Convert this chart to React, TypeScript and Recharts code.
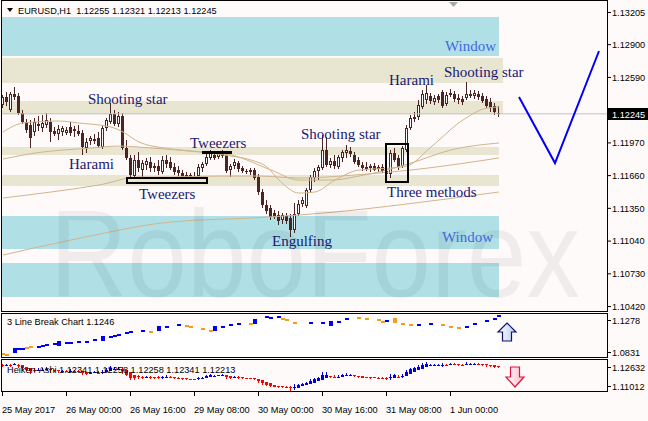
import {
  ComposedChart, Bar, Line, Area, Scatter, XAxis, YAxis, ReferenceArea, ReferenceLine,
} from 'recharts'

// EURUSD H1, 25 May 08:00 .. 1 Jun 12:00 (one value per hourly bar)
const openP = [
  1.12329, 1.12404, 1.12281, 1.12433, 1.12414, 1.12253, 1.12168, 1.12139, 1.12073, 1.12130,
  1.12111, 1.12139, 1.12168, 1.12083, 1.12054, 1.12073, 1.12064, 1.12120, 1.12101, 1.12083,
  1.12064, 1.11921, 1.11988, 1.11997, 1.12016, 1.11931, 1.12111, 1.12168, 1.12243, 1.12149,
  1.12224, 1.11921, 1.11827, 1.11656, 1.11808, 1.11713, 1.11760, 1.11789, 1.11732, 1.11751,
  1.11694, 1.11808, 1.11789, 1.11741, 1.11713, 1.11685, 1.11666, 1.11656, 1.11656, 1.11656,
  1.11732, 1.11770, 1.11827, 1.11855, 1.11836, 1.11865, 1.11855, 1.11713, 1.11751, 1.11779,
  1.11732, 1.11704, 1.11694, 1.11713, 1.11647, 1.11505, 1.11382, 1.11353, 1.11306, 1.11287,
  1.11240, 1.11278, 1.11259, 1.11145, 1.11297, 1.11391, 1.11372, 1.11524, 1.11637, 1.11704,
  1.11732, 1.11903, 1.11760, 1.11798, 1.11741, 1.11827, 1.11874, 1.11893, 1.11855, 1.11808,
  1.11760, 1.11741, 1.11732, 1.11751, 1.11722, 1.11741, 1.11704, 1.11675, 1.11874, 1.11827,
  1.11751, 1.11903, 1.12111, 1.12196, 1.12215, 1.12310, 1.12376, 1.12414, 1.12357, 1.12414,
  1.12452, 1.12338, 1.12423, 1.12433, 1.12376, 1.12385, 1.12395, 1.12433, 1.12414, 1.12433,
  1.12414, 1.12385, 1.12357, 1.12319, 1.12255,
]
const highP = [
  1.12423, 1.12452, 1.12452, 1.12499, 1.12442, 1.12281, 1.12196, 1.12187, 1.12205, 1.12224,
  1.12234, 1.12253, 1.12205, 1.12120, 1.12139, 1.12130, 1.12120, 1.12168, 1.12130, 1.12139,
  1.12092, 1.12016, 1.12035, 1.12054, 1.12073, 1.12130, 1.12205, 1.12348, 1.12281, 1.12262,
  1.12253, 1.11997, 1.11855, 1.11855, 1.11884, 1.11808, 1.11827, 1.11836, 1.11779, 1.11808,
  1.11846, 1.11855, 1.11836, 1.11779, 1.11751, 1.11713, 1.11694, 1.11685, 1.11694, 1.11770,
  1.11789, 1.11865, 1.11903, 1.11893, 1.11893, 1.11903, 1.11893, 1.11770, 1.11817, 1.11798,
  1.11751, 1.11722, 1.11732, 1.11732, 1.11675, 1.11533, 1.11429, 1.11382, 1.11334, 1.11325,
  1.11306, 1.11306, 1.11297, 1.11401, 1.11429, 1.11457, 1.11543, 1.11666, 1.11732, 1.11760,
  1.12045, 1.12026, 1.11827, 1.11855, 1.11855, 1.11903, 1.11950, 1.11931, 1.11884, 1.11836,
  1.11789, 1.11789, 1.11770, 1.11779, 1.11760, 1.11770, 1.11760, 1.11903, 1.11921, 1.11855,
  1.11940, 1.12139, 1.12234, 1.12262, 1.12376, 1.12471, 1.12518, 1.12442, 1.12423, 1.12433,
  1.12471, 1.12452, 1.12480, 1.12461, 1.12433, 1.12414, 1.12546, 1.12471, 1.12471, 1.12461,
  1.12442, 1.12414, 1.12395, 1.12348, 1.12321,
]
const lowP = [
  1.12300, 1.12319, 1.12262, 1.12376, 1.12234, 1.12149, 1.12064, 1.11921, 1.12035, 1.12083,
  1.12073, 1.12111, 1.11978, 1.12035, 1.11997, 1.12035, 1.12045, 1.12035, 1.12026, 1.12035,
  1.11855, 1.11874, 1.11950, 1.11959, 1.11921, 1.11912, 1.12083, 1.12149, 1.12130, 1.12120,
  1.11903, 1.11808, 1.11628, 1.11637, 1.11694, 1.11647, 1.11713, 1.11694, 1.11694, 1.11666,
  1.11675, 1.11732, 1.11713, 1.11666, 1.11656, 1.11637, 1.11628, 1.11628, 1.11628, 1.11637,
  1.11694, 1.11751, 1.11808, 1.11808, 1.11817, 1.11827, 1.11685, 1.11647, 1.11722, 1.11694,
  1.11685, 1.11675, 1.11666, 1.11618, 1.11476, 1.11353, 1.11297, 1.11240, 1.11249, 1.11193,
  1.11202, 1.11202, 1.11079, 1.11117, 1.11278, 1.11363, 1.11353, 1.11495, 1.11599, 1.11618,
  1.11713, 1.11741, 1.11732, 1.11722, 1.11722, 1.11789, 1.11827, 1.11836, 1.11770, 1.11741,
  1.11704, 1.11704, 1.11694, 1.11704, 1.11694, 1.11685, 1.11637, 1.11637, 1.11789, 1.11713,
  1.11732, 1.11884, 1.12092, 1.12168, 1.12187, 1.12291, 1.12338, 1.12338, 1.12329, 1.12348,
  1.12300, 1.12319, 1.12404, 1.12357, 1.12338, 1.12329, 1.12376, 1.12395, 1.12385, 1.12376,
  1.12348, 1.12300, 1.12262, 1.12234, 1.12213,
]
const closeP = [
  1.12404, 1.12357, 1.12433, 1.12404, 1.12253, 1.12168, 1.12092, 1.12016, 1.12168, 1.12149,
  1.12158, 1.12187, 1.12073, 1.12054, 1.12101, 1.12111, 1.12092, 1.12064, 1.12083, 1.12054,
  1.11931, 1.11978, 1.12016, 1.12007, 1.11940, 1.12111, 1.12187, 1.12243, 1.12149, 1.12224,
  1.11921, 1.11827, 1.11666, 1.11808, 1.11732, 1.11779, 1.11798, 1.11732, 1.11751, 1.11704,
  1.11808, 1.11770, 1.11732, 1.11694, 1.11685, 1.11656, 1.11647, 1.11666, 1.11647, 1.11741,
  1.11770, 1.11836, 1.11874, 1.11827, 1.11874, 1.11846, 1.11704, 1.11751, 1.11789, 1.11722,
  1.11704, 1.11694, 1.11713, 1.11637, 1.11505, 1.11382, 1.11325, 1.11268, 1.11268, 1.11230,
  1.11287, 1.11230, 1.11145, 1.11297, 1.11391, 1.11429, 1.11524, 1.11647, 1.11704, 1.11741,
  1.11903, 1.11760, 1.11798, 1.11751, 1.11836, 1.11884, 1.11903, 1.11865, 1.11789, 1.11760,
  1.11732, 1.11722, 1.11751, 1.11713, 1.11741, 1.11704, 1.11675, 1.11874, 1.11808, 1.11741,
  1.11921, 1.12111, 1.12205, 1.12215, 1.12329, 1.12433, 1.12442, 1.12367, 1.12395, 1.12376,
  1.12319, 1.12423, 1.12442, 1.12385, 1.12395, 1.12357, 1.12433, 1.12414, 1.12442, 1.12404,
  1.12367, 1.12319, 1.12300, 1.12262, 1.12245,
]

// moving averages, read at a few bars
const ma1Idx = [0, 5, 14, 19, 27, 30, 34, 42, 49, 57, 62, 66, 69, 74, 78, 83, 89, 97, 101, 107, 115, 121, 124]
const ma1Val = [1.12073, 1.12158, 1.12177, 1.12158, 1.12120, 1.12073, 1.11978, 1.11912, 1.11884, 1.11846, 1.11808, 1.11741,
  1.11618, 1.11495, 1.11505, 1.11618, 1.11713, 1.11732, 1.11751, 1.11931, 1.12187, 1.12300, 1.12310]
const ma2Idx = [0, 8, 22, 29, 37, 47, 57, 67, 74, 82, 89, 96, 102, 112, 124]
const ma2Val = [1.11817, 1.11874, 1.11921, 1.11940, 1.11921, 1.11893, 1.11855, 1.11713, 1.11618, 1.11618, 1.11656, 1.11713,
  1.11779, 1.11903, 1.11969]
const ma3Idx = [0, 12, 24, 34, 42, 54, 64, 74, 88, 102, 124]
const ma3Val = [1.11448, 1.11505, 1.11571, 1.11647, 1.11647, 1.11656, 1.11656, 1.11637, 1.11666, 1.11713, 1.11827]
const ma4Idx = [0, 17, 42, 62, 74, 83, 99, 124]
const ma4Val = [1.10908, 1.11050, 1.11221, 1.11259, 1.11287, 1.11315, 1.11382, 1.11505]

// forecast zig-zag
const fcIdx = [129, 138, 149]
const fcVal = [1.12404, 1.11779, 1.12840]

// support / resistance zones (price top, price bottom, last bar)
const zoneHi = [1.13162, 1.12774, 1.12367, 1.11931, 1.11666, 1.11278, 1.10832]
const zoneLo = [1.12793, 1.12537, 1.12243, 1.11855, 1.11562, 1.10965, 1.10510]
const zoneEnd = [124, 125, 125, 124, 124, 124, 124]
const zoneIsWindow = [true, false, false, false, false, true, true]

// pattern boxes
const boxFrom = [31, 49.75, 95.75]
const boxTo = [51, 57.25, 101.25]
const boxHi = [1.11637, 1.11893, 1.11959]
const boxLo = [1.11590, 1.11865, 1.11599]
const boxSolid = [false, true, false]

const priceTicks = [1.10420, 1.10730, 1.11040, 1.11350, 1.11660, 1.11970, 1.12590, 1.12900, 1.13205]

// 3 line break
const lbIdx = [0, 1, 3, 4, 5, 6, 7, 9, 10, 11, 13, 14, 16, 17, 19, 21, 23, 25, 27, 28, 29, 31, 32, 35, 37, 39, 41, 44, 46, 47,
  50, 52, 53, 55, 57, 59, 62, 63, 66, 67, 69, 70, 71, 73, 77, 80, 82, 84, 86, 89, 91, 94, 95, 96, 98, 100, 102, 104, 107, 110,
  112, 114, 116, 118, 121, 123, 124]
const lbVal = [1.0871, 1.0861, 1.0901, 1.0921, 1.0923, 1.0930, 1.0937, 1.0943, 1.0950, 1.0957, 1.0970, 1.0973, 1.0983, 1.0983,
  1.0990, 1.0990, 1.1007, 1.1017, 1.1037, 1.1050, 1.1063, 1.1076, 1.1089, 1.1099, 1.1089, 1.1116, 1.1139, 1.1156, 1.1149, 1.1139,
  1.1122, 1.1096, 1.1122, 1.1139, 1.1162, 1.1169, 1.1172, 1.1189, 1.1235, 1.1231, 1.1235, 1.1221, 1.1206, 1.1182, 1.1179, 1.1179,
  1.1172, 1.1189, 1.1221, 1.1228, 1.1221, 1.1206, 1.1189, 1.1199, 1.1196, 1.1172, 1.1162, 1.1156, 1.1172, 1.1156, 1.1139, 1.1129,
  1.1139, 1.1169, 1.1202, 1.1221, 1.1246]
const lbKind = ['o', 'o', 'B', 'b', 'b', 'o', 'o', 'b', 'b', 'b', 'b', 'B', 'b', 'b', 'b', 'b', 'b', 'B', 'b', 'b', 'b', 'b', 'b',
  'b', 'o', 'B', 'b', 'b', 'o', 'o', 'o', 'o', 'B', 'b', 'b', 'b', 'o', 'B', 'b', 'b', 'b', 'o', 'o', 'o', 'b', 'b', 'B', 'b', 'b',
  'o', 'o', 'o', 'o', 'b', 'O', 'o', 'o', 'b', 'b', 'o', 'o', 'o', 'b', 'b', 'b', 'b', 'b']
const lbScale = [1.0831, 1.1278]

// Heiken-Ashi
const haOpen = [
  1.12367, 1.12367, 1.12376, 1.12367, 1.12395, 1.12367, 1.12291, 1.12205, 1.12139, 1.12130,
  1.12139, 1.12139, 1.12158, 1.12130, 1.12101, 1.12087, 1.12087, 1.12083, 1.12092, 1.12087,
  1.12083, 1.12035, 1.11988, 1.11997, 1.11997, 1.11997, 1.12007, 1.12073, 1.12149, 1.12177,
  1.12187, 1.12130, 1.12007, 1.11874, 1.11808, 1.11794, 1.11765, 1.11770, 1.11766, 1.11751,
  1.11741, 1.11751, 1.11770, 1.11770, 1.11741, 1.11722, 1.11698, 1.11678, 1.11669, 1.11662,
  1.11682, 1.11713, 1.11760, 1.11808, 1.11827, 1.11840, 1.11849, 1.11817, 1.11770, 1.11770,
  1.11760, 1.11741, 1.11719, 1.11710, 1.11692, 1.11634, 1.11539, 1.11448, 1.11382, 1.11334,
  1.11297, 1.11278, 1.11268, 1.11230, 1.11235, 1.11292, 1.11353, 1.11401, 1.11492, 1.11581,
  1.11643, 1.11745, 1.11801, 1.11791, 1.11786, 1.11789, 1.11819, 1.11853, 1.11867, 1.11846,
  1.11817, 1.11781, 1.11760, 1.11748, 1.11742, 1.11736, 1.11730, 1.11712, 1.11742, 1.11795,
  1.11790, 1.11812, 1.11912, 1.12035, 1.12123, 1.12200, 1.12288, 1.12353, 1.12371, 1.12374,
  1.12384, 1.12385, 1.12384, 1.12411, 1.12410, 1.12398, 1.12385, 1.12411, 1.12420, 1.12423,
  1.12421, 1.12407, 1.12381, 1.12355, 1.12341,
]
const haClose = [
  1.12364, 1.12383, 1.12357, 1.12428, 1.12336, 1.12213, 1.12130, 1.12066, 1.12120, 1.12146,
  1.12144, 1.12172, 1.12106, 1.12073, 1.12073, 1.12087, 1.12080, 1.12097, 1.12085, 1.12078,
  1.11985, 1.11948, 1.11997, 1.12004, 1.11988, 1.12021, 1.12146, 1.12227, 1.12201, 1.12189,
  1.12075, 1.11888, 1.11744, 1.11739, 1.11779, 1.11737, 1.11775, 1.11763, 1.11739, 1.11732,
  1.11756, 1.11791, 1.11768, 1.11720, 1.11701, 1.11673, 1.11659, 1.11659, 1.11656, 1.11701,
  1.11746, 1.11805, 1.11853, 1.11846, 1.11855, 1.11860, 1.11784, 1.11720, 1.11770, 1.11749,
  1.11718, 1.11699, 1.11701, 1.11675, 1.11576, 1.11443, 1.11358, 1.11311, 1.11289, 1.11259,
  1.11259, 1.11254, 1.11195, 1.11240, 1.11349, 1.11410, 1.11448, 1.11583, 1.11668, 1.11706,
  1.11848, 1.11858, 1.11779, 1.11782, 1.11789, 1.11850, 1.11888, 1.11881, 1.11824, 1.11787,
  1.11746, 1.11739, 1.11737, 1.11737, 1.11730, 1.11725, 1.11694, 1.11772, 1.11848, 1.11784,
  1.11836, 1.12009, 1.12161, 1.12210, 1.12277, 1.12376, 1.12419, 1.12390, 1.12376, 1.12393,
  1.12385, 1.12383, 1.12438, 1.12409, 1.12385, 1.12371, 1.12438, 1.12428, 1.12428, 1.12419,
  1.12393, 1.12355, 1.12329, 1.12291, 1.12258,
]
const haLegend = [1.12341, 1.12258, 1.12258, 1.12341, 1.12213]
const haScale = [1.11012, 1.12632]

const timeTicks = [0, 16, 32, 48, 64, 80, 96, 112]
const timeLabels = ['25 May 2017', '26 May 00:00', '26 May 16:00', '29 May 08:00', '30 May 00:00', '30 May 16:00',
  '31 May 08:00', '1 Jun 00:00']

const FONT = "'Liberation Sans', Arial, sans-serif"
const SERIF = "'Liberation Serif', 'Times New Roman', serif"
const CANDLE = '#4b2424'
const TAN = '#d2b48c'
const BG = '#fffafa'
const X_DOMAIN: [number, number] = [-0.25, 151]
const last = openP.length - 1

const mainRows: any[] = Array.from({ length: 150 }, (_, i) => ({ i }))
openP.forEach((o, i) => Object.assign(mainRows[i], { open: o, high: highP[i], low: lowP[i], close: closeP[i] }))
;([['ma1', ma1Idx, ma1Val], ['ma2', ma2Idx, ma2Val], ['ma3', ma3Idx, ma3Val], ['ma4', ma4Idx, ma4Val], ['fc', fcIdx, fcVal]] as any[])
  .forEach(([key, idx, val]) => idx.forEach((k: number, j: number) => { mainRows[k][key] = val[j] }))

const lbRows = lbIdx.map((k, j) => ({ i: k, v: lbVal[j], kind: lbKind[j] }))

const haRows = haOpen.map((o, i) => ({
  i, o, c: haClose[i],
  hi: Math.max(highP[i], o, haClose[i]),
  lo: Math.min(lowP[i], o, haClose[i]),
}))

function Candle(props: any) {
  const { x, y, width, height, payload } = props
  if (!payload || payload.high == null || !Number.isFinite(y) || !height) return null
  const cx = Math.round(x + width / 2)
  const k = height / (payload.high - payload.low)
  const yO = y + (payload.high - payload.open) * k
  const yC = y + (payload.high - payload.close) * k
  const top = Math.round(Math.min(yO, yC))
  const bot = Math.max(top + 1, Math.round(Math.max(yO, yC)))
  const bull = payload.close > payload.open
  return (
    <g>
      <line x1={cx - 0.5} x2={cx - 0.5} y1={Math.round(y)} y2={Math.round(y + height)} stroke={CANDLE} />
      {bull
        ? <rect x={cx - 1.5} y={top + 0.5} width={2} height={Math.max(1, bot - top - 1)} fill="#ffffff" stroke={CANDLE} />
        : <rect x={cx - 2} y={top} width={3} height={bot - top} fill={CANDLE} />}
    </g>
  )
}

function HaBar(props: any) {
  const { x, y, width, height, payload } = props
  if (!payload || !Number.isFinite(y) || !height) return null
  const cx = Math.round(x + width / 2)
  const k = height / (payload.hi - payload.lo)
  const yO = y + (payload.hi - payload.o) * k
  const yC = y + (payload.hi - payload.c) * k
  const top = Math.round(Math.min(yO, yC))
  const bot = Math.max(top + 1, Math.round(Math.max(yO, yC)))
  const col = payload.c >= payload.o ? '#0000e0' : '#ff0000'
  return (
    <g>
      <line x1={cx - 0.5} x2={cx - 0.5} y1={Math.round(y)} y2={Math.round(y + height)} stroke={col} />
      <rect x={cx - 2} y={top} width={3} height={bot - top} fill={col} />
    </g>
  )
}

function Brick(props: any) {
  const { cx, cy, payload } = props
  if (!Number.isFinite(cx) || !Number.isFinite(cy)) return null
  const big = payload.kind === 'B' || payload.kind === 'O'
  const col = payload.kind.toLowerCase() === 'b' ? '#0000f0' : '#f39c1f'
  const x0 = Math.round(cx) - 2
  return big
    ? <rect x={x0} y={Math.round(cy) - 3} width={4} height={5} fill={col} />
    : <rect x={x0} y={Math.round(cy) - 1} width={4} height={2} fill={col} />
}

function sideTick(max: number, dec: number) {
  return (p: any) => {
    const yy = p.y + (p.payload.value >= max ? 7 : -6)
    return (
      <g>
        <line x1={p.x - 5} x2={p.x - 1} y1={yy + 0.5} y2={yy + 0.5} stroke="#000" />
        <text x={p.x} y={yy + 3.5} fontSize={9.2} fontFamily={FONT} fill="#000">{p.payload.value.toFixed(dec)}</text>
      </g>
    )
  }
}

function TimeTick(p: any) {
  const k = timeTicks.indexOf(p.payload.value)
  return (
    <g>
      <line x1={p.x - 0.5} x2={p.x - 0.5} y1={p.y} y2={p.y + 4} stroke="#000" />
      <text x={p.x - 1} y={p.y + 21} fontSize={9.2} fontFamily={FONT} fill="#000">{timeLabels[k]}</text>
    </g>
  )
}

function PriceBox(props: any) {
  const vb = props.viewBox
  if (!vb) return null
  const x0 = vb.x + vb.width
  const y0 = Math.round(vb.y)
  return (
    <g>
      <rect x={x0} y={y0 - 6} width={41} height={12} fill="#000" />
      <text x={x0 + 5} y={y0 + 3.5} fontSize={9.2} fontFamily={FONT} fill="#fff">{closeP[last].toFixed(5)}</text>
    </g>
  )
}

const patternLabels = [
  { t: 'Shooting star', x: 88, y: 104 },
  { t: 'Harami', x: 69, y: 169 },
  { t: 'Tweezers', x: 190, y: 148 },
  { t: 'Tweezers', x: 139, y: 199 },
  { t: 'Shooting star', x: 301, y: 139 },
  { t: 'Engulfing', x: 272, y: 246 },
  { t: 'Three methods', x: 387, y: 197 },
  { t: 'Harami', x: 389, y: 85 },
  { t: 'Shooting star', x: 444, y: 77 },
]

export default function App() {
  return (
    <div style={{ position: 'absolute', left: 0, top: 0, width: 648, height: 421, background: BG, overflow: 'hidden' }}>
      <div style={{ position: 'absolute', left: 0, top: 0 }}>
        <ComposedChart width={648} height={311} data={mainRows} margin={{ top: 0, right: 0, bottom: 0, left: 2 }}>
          <XAxis type="number" dataKey="i" domain={X_DOMAIN} hide allowDataOverflow />
          <YAxis orientation="right" width={41} domain={[1.10378, 1.13323]} allowDataOverflow ticks={priceTicks}
            interval={0} tickFormatter={(v: number) => v.toFixed(5)} axisLine={false} tickLine={{ stroke: '#000' }}
            tickSize={4} tickMargin={1} tick={{ fontSize: 9.2, fill: '#000', fontFamily: FONT }} />
          {zoneHi.map((hi, k) => (
            <ReferenceArea key={'z' + k} x1={X_DOMAIN[0]} x2={zoneEnd[k]} y1={zoneLo[k]} y2={hi}
              fill={zoneIsWindow[k] ? '#b0e0e6' : '#e8e6d1'} fillOpacity={1} stroke="none" />
          ))}
          <ReferenceLine y={closeP[last]} stroke="#c0c0c0" label={<PriceBox />} />
          <Line dataKey="ma4" type="monotone" connectNulls stroke={TAN} strokeWidth={1} dot={false} isAnimationActive={false} />
          <Line dataKey="ma3" type="monotone" connectNulls stroke={TAN} strokeWidth={1} dot={false} isAnimationActive={false} />
          <Line dataKey="ma2" type="monotone" connectNulls stroke={TAN} strokeWidth={1} dot={false} isAnimationActive={false} />
          <Line dataKey="ma1" type="monotone" connectNulls stroke={TAN} strokeWidth={1} dot={false} isAnimationActive={false} />
          <Bar dataKey={(d: any) => (d.high == null ? null : [d.low, d.high])} barSize={3}
            shape={(p: any) => <Candle {...p} />} isAnimationActive={false} />
          <Line dataKey="fc" type="linear" connectNulls stroke="#0000ff" strokeWidth={2} dot={false} isAnimationActive={false} />
          {boxHi.map((hi, k) => (
            <ReferenceArea key={'b' + k} x1={boxFrom[k]} x2={boxTo[k]} y1={boxLo[k]} y2={hi}
              fill={boxSolid[k] ? '#000' : 'none'} fillOpacity={1} stroke="#000" strokeWidth={boxSolid[k] ? 0 : 2}
              zIndex={700} />
          ))}
        </ComposedChart>
      </div>

      <div style={{ position: 'absolute', left: 0, top: 313 }}>
        <ComposedChart width={648} height={45} data={lbRows} margin={{ top: 0, right: 0, bottom: 0, left: 2 }}>
          <XAxis type="number" dataKey="i" domain={X_DOMAIN} hide allowDataOverflow />
          <YAxis orientation="right" width={41} domain={lbScale} allowDataOverflow ticks={lbScale} interval={0}
            axisLine={false} tickLine={false} tickSize={4} tickMargin={1} tick={sideTick(lbScale[1], 4)} />
          <Area dataKey="v" type="linear" stroke="none" fill="#ffffff" fillOpacity={1} isAnimationActive={false} />
          <Scatter dataKey="v" shape={(p: any) => <Brick {...p} />} isAnimationActive={false} />
        </ComposedChart>
      </div>

      <div style={{ position: 'absolute', left: 0, top: 360 }}>
        <ComposedChart width={648} height={62} data={haRows} margin={{ top: 0, right: 0, bottom: 0, left: 2 }}>
          <XAxis type="number" dataKey="i" domain={X_DOMAIN} allowDataOverflow ticks={timeTicks} interval={0} height={30}
            axisLine={false} tickLine={false} tickSize={0} tickMargin={0} tick={(p: any) => <TimeTick {...p} />} />
          <YAxis orientation="right" width={41} domain={haScale} allowDataOverflow ticks={haScale} interval={0}
            axisLine={false} tickLine={false} tickSize={4} tickMargin={1} tick={sideTick(haScale[1], 5)} />
          <Bar dataKey={(d: any) => [d.lo, d.hi]} barSize={3} shape={(p: any) => <HaBar {...p} />} isAnimationActive={false} />
        </ComposedChart>
      </div>

      <svg width={648} height={421} style={{ position: 'absolute', left: 0, top: 0, pointerEvents: 'none' }}>
        <defs>
          <linearGradient id="upFill" x1="0" y1="0" x2="1" y2="0">
            <stop offset="0" stopColor="#ffffff" />
            <stop offset="1" stopColor="#b8cdf0" />
          </linearGradient>
          <linearGradient id="dnFill" x1="0" y1="0" x2="1" y2="0">
            <stop offset="0" stopColor="#ffffff" />
            <stop offset="1" stopColor="#ffb6c8" />
          </linearGradient>
        </defs>
        <text x={50} y={297} fontSize={124} fontFamily={FONT} fill="#000" fillOpacity={0.055} textLength={530}
          lengthAdjust="spacingAndGlyphs">RoboForex</text>

        <rect x={1.5} y={0.5} width={606} height={311} fill="none" stroke="#000" />
        <rect x={1.5} y={313.5} width={606} height={44} fill="none" stroke="#000" />
        <rect x={1.5} y={359.5} width={606} height={32} fill="none" stroke="#000" />

        <polygon points="7,8 13,8 10,12" fill="#000" />
        <text x={18} y={14} fontSize={9.2} fontFamily={FONT} fill="#000" style={{ whiteSpace: 'pre' }}>
          {`EURUSD,H1  ${openP[last].toFixed(5)} ${highP[last].toFixed(5)} ${lowP[last].toFixed(5)} ${closeP[last].toFixed(5)}`}
        </text>
        <polygon points="449,2 458,2 453.5,7" fill="#a8a8a8" />

        <text x={445} y={51} fontSize={15} fontFamily={SERIF} fill="#4169e1">Window</text>
        <text x={442} y={242} fontSize={15} fontFamily={SERIF} fill="#4169e1">Window</text>
        {patternLabels.map((l, k) => (
          <text key={k} x={l.x} y={l.y} fontSize={15} fontFamily={SERIF} fill="#191970">{l.t}</text>
        ))}

        <text x={7} y={325} fontSize={9.2} fontFamily={FONT} fill="#000">{`3 Line Break Chart ${lbVal[lbVal.length - 1].toFixed(4)}`}</text>
        <text x={7} y={373} fontSize={9.2} fontFamily={FONT} fill="#000">{`Heiken-Ashi ${haLegend.map((v) => v.toFixed(5)).join(' ')}`}</text>

        <polygon points="507,323 516,332 511.5,332 511.5,341 502.5,341 502.5,332 498,332" fill="url(#upFill)"
          stroke="#10106e" strokeWidth={1.2} />
        <polygon points="510.5,367 519.5,367 519.5,377 524,377 515,387 506,377 510.5,377" fill="url(#dnFill)"
          stroke="#dc143c" strokeWidth={1.2} />
      </svg>
    </div>
  )
}
